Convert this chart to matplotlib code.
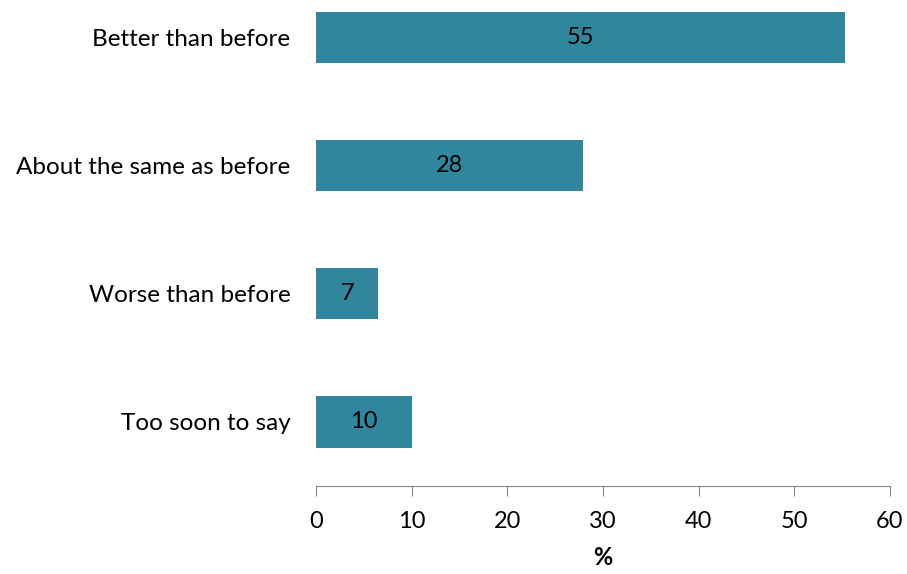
import matplotlib.pyplot as plt

categories = ['Better than before', 'About the same as before', 'Worse than before', 'Too soon to say']
values = [55.3, 27.9, 6.5, 10.0]
value_labels = ['55', '28', '7', '10']
x_ticks = [0, 10, 20, 30, 40, 50, 60]

plt.rcParams['font.family'] = ['Lato', 'DejaVu Sans']

fig = plt.figure(figsize=(9.07, 5.74), dpi=100)
ax = fig.add_axes([316 / 907, 88 / 574, 574 / 907, 486 / 574])

y = range(len(categories))
bars = ax.barh(y, values, height=0.4, color='#31859C')

for bar, lab in zip(bars, value_labels):
    ax.text(bar.get_width() / 2, bar.get_y() + bar.get_height() / 2, lab,
            ha='center', va='center', fontsize=17, color='black')

ax.set_ylim(3.5, -0.293)
ax.set_xlim(0, 60)
ax.set_yticks(list(y))
ax.set_yticklabels(categories, fontsize=17.5)
ax.tick_params(axis='y', length=0, pad=18.5)
ax.set_xticks(x_ticks)
ax.tick_params(axis='x', labelsize=17, length=7, color='#888888', pad=11)

for s in ['top', 'right', 'left']:
    ax.spines[s].set_visible(False)
ax.spines['bottom'].set_color('#888888')

ax.set_xlabel('%', fontsize=17, fontweight='bold', labelpad=10)

fig.savefig('out.png', dpi=100)
